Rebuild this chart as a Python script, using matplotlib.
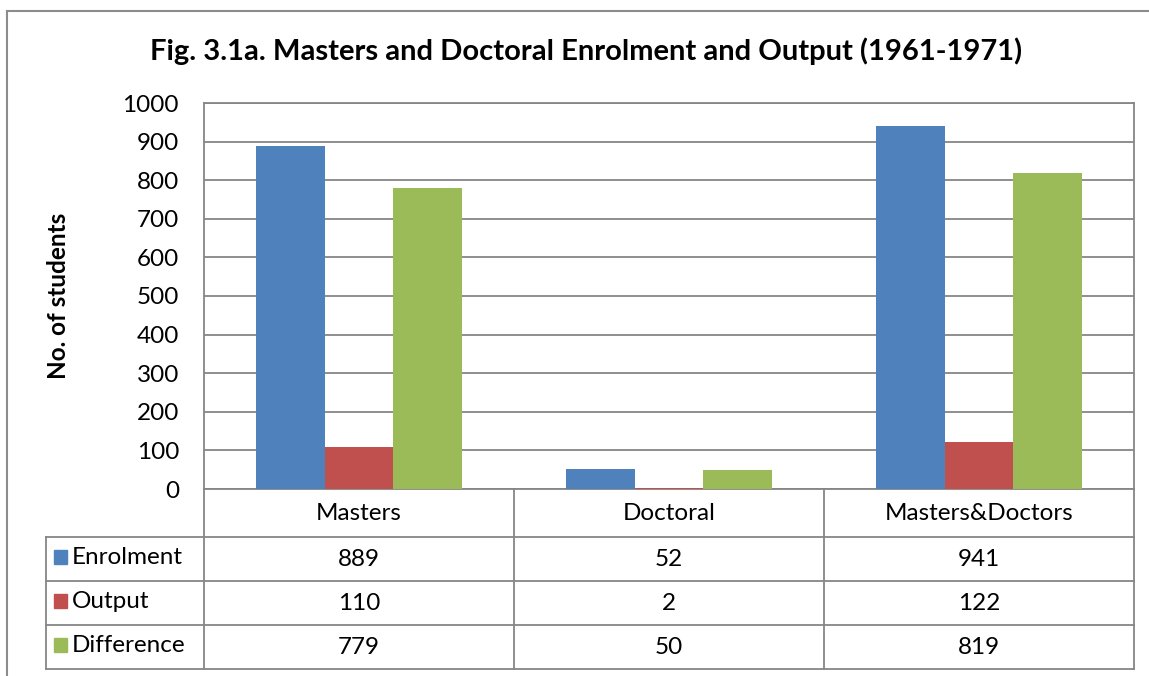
import matplotlib
matplotlib.use("Agg")
import matplotlib.pyplot as plt
from matplotlib.patches import Rectangle
from matplotlib.lines import Line2D
import numpy as np

categories = ["Masters", "Doctoral", "Masters&Doctors"]
series_names = ["Enrolment", "Output", "Difference"]
enrolment = [889, 52, 941]
output = [110, 2, 122]
difference = [779, 50, 819]
yticks = [0, 100, 200, 300, 400, 500, 600, 700, 800, 900, 1000]
title = "Fig. 3.1a. Masters and Doctoral Enrolment and Output (1961-1971)"
ylabel = "No. of students"

colors = ["#4F81BD", "#C0504D", "#9BBB59"]
grid_c = "#868686"
FONT = "Lato"
FS = 17.5
plt.rcParams["font.family"] = [FONT, "DejaVu Sans"]

W, H = 1149, 676
fig = plt.figure(figsize=(W / 100, H / 100), dpi=100)

def fx(px):
    return px / W

def fy(py):
    return 1 - py / H

# plot area pixels
L, R, T, B = 204, 1134, 103, 489
ax = fig.add_axes([fx(L), fy(B), fx(R) - fx(L), fy(T) - fy(B)])

series = [enrolment, output, difference]
n = len(categories)
x = np.arange(n)
bw = 1 / 4.5
for i, (vals, c) in enumerate(zip(series, colors)):
    ax.bar(x + (i - 1) * bw, vals, width=bw, color=c, edgecolor="none", zorder=3)

ax.set_xlim(-0.5, n - 0.5)
ax.set_ylim(0, 1000)
ax.set_yticks(yticks)
ax.set_yticklabels([str(t) for t in yticks], fontsize=FS, fontfamily=FONT)
ax.set_xticks([])
ax.tick_params(axis="y", length=0, pad=18)
ax.yaxis.grid(True, color=grid_c, linewidth=1.3, zorder=0)
for s in ax.spines.values():
    s.set_color(grid_c)
    s.set_linewidth(1.3)

fig.text(fx(586), fy(51), title, ha="center", va="center",
         fontsize=21, fontweight="bold", fontfamily=FONT)
fig.text(fx(58), fy(296), ylabel, ha="center", va="center", rotation=90,
         fontsize=FS, fontweight="bold", fontfamily=FONT)

# outer frame
fig.add_artist(Line2D([fx(7), fx(7)], [fy(11), fy(676)], color="#8c8c8c", lw=1.5,
                      transform=fig.transFigure))
fig.add_artist(Line2D([fx(7), fx(1149)], [fy(11), fy(11)], color="#8c8c8c", lw=1.5,
                      transform=fig.transFigure))

# data table
col_x = [L + k * (R - L) / n for k in range(n + 1)]
row_y = [489, 537, 581, 625, 669]
TL = 46

def hline(x0, x1, y):
    fig.add_artist(Line2D([fx(x0), fx(x1)], [fy(y), fy(y)], color=grid_c, lw=1.3,
                          transform=fig.transFigure))

def vline(x, y0, y1):
    fig.add_artist(Line2D([fx(x), fx(x)], [fy(y0), fy(y1)], color=grid_c, lw=1.3,
                          transform=fig.transFigure))

for yy in row_y[1:]:
    hline(TL, R, yy)
for xx in col_x:
    vline(xx, row_y[0], row_y[-1])
vline(TL, row_y[1], row_y[-1])

for j, cat in enumerate(categories):
    fig.text(fx((col_x[j] + col_x[j + 1]) / 2), fy((row_y[0] + row_y[1]) / 2 + 1), cat,
             ha="center", va="center", fontsize=FS, fontfamily=FONT)

for i, (name, vals, c) in enumerate(zip(series_names, series, colors)):
    ymid = (row_y[i + 1] + row_y[i + 2]) / 2
    fig.add_artist(Rectangle((fx(54), fy(ymid + 5)), fx(13), 14 / H, color=c,
                             transform=fig.transFigure))
    fig.text(fx(72), fy(ymid - 1), name, ha="left", va="center", fontsize=FS, fontfamily=FONT)
    for j, v in enumerate(vals):
        fig.text(fx((col_x[j] + col_x[j + 1]) / 2), fy(ymid), str(v),
                 ha="center", va="center", fontsize=FS, fontfamily=FONT)

fig.savefig("out.png", dpi=100)
